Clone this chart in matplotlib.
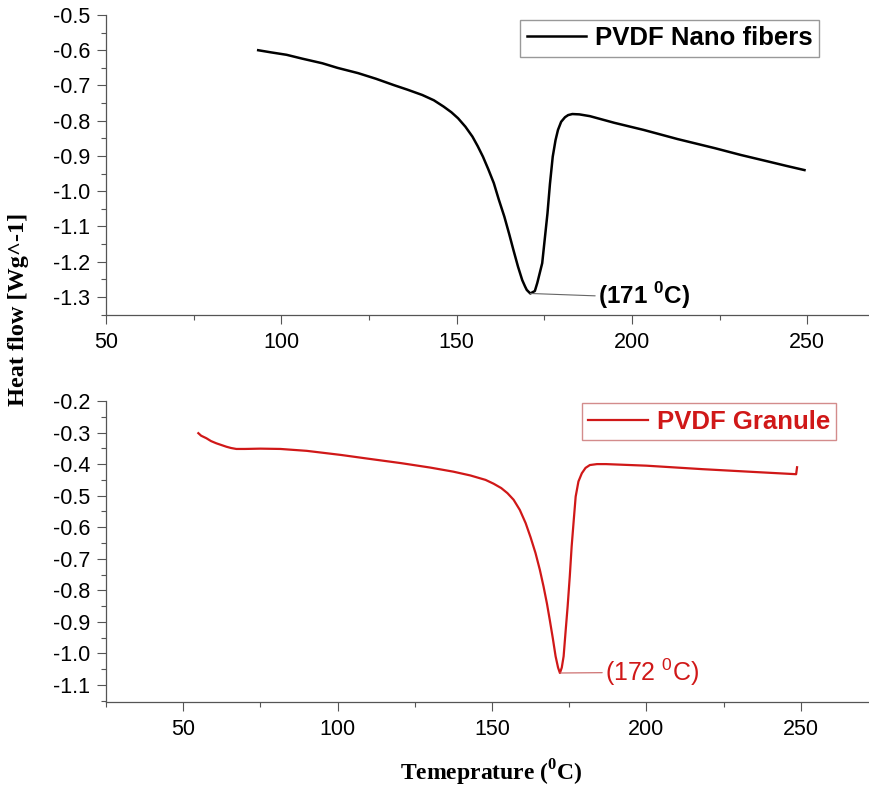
import matplotlib
matplotlib.use("Agg")
from matplotlib import pyplot as plt
from matplotlib.ticker import MultipleLocator, FormatStrFormatter

plt.rcParams['font.family'] = ['Liberation Sans', 'DejaVu Sans']
plt.rcParams['mathtext.fontset'] = 'custom'
plt.rcParams['mathtext.rm'] = 'Liberation Sans'
plt.rcParams['mathtext.bf'] = 'Liberation Sans:bold'
plt.rcParams['mathtext.sf'] = 'Liberation Serif:bold'

# DSC traces: temperature (C) vs heat flow (W/g)
temp_fiber = [93.4, 97.0, 101.5, 106.0, 111.7, 116.0, 121.9, 127.0, 132.1, 136.0,
              140.2, 143.5, 146.3, 148.5, 150.4, 152.5, 154.5, 156.0, 157.5, 159.0,
              160.6, 162.0, 163.6, 165.0, 166.2, 167.5, 168.7, 169.5, 170.0, 171.0,
              172.3, 173.0, 174.4, 175.9, 176.6, 177.4, 178.2, 178.9, 179.8, 180.9,
              181.8, 183.0, 185.0, 188.0, 195.0, 203.3, 213.0, 223.7, 231.0, 239.0,
              244.0, 249.2]
flow_fiber = [-0.600, -0.606, -0.613, -0.624, -0.637, -0.650, -0.665, -0.681, -0.699, -0.712,
              -0.727, -0.742, -0.760, -0.776, -0.793, -0.817, -0.845, -0.872, -0.902, -0.937,
              -0.977, -1.023, -1.072, -1.122, -1.167, -1.214, -1.252, -1.270, -1.280, -1.290,
              -1.283, -1.260, -1.204, -1.063, -0.980, -0.902, -0.855, -0.826, -0.803, -0.790,
              -0.784, -0.781, -0.782, -0.787, -0.806, -0.826, -0.852, -0.878, -0.897, -0.916,
              -0.928, -0.940]

temp_granule = [54.9, 55.8, 57.5, 59.0, 60.7, 62.5, 64.0, 65.5, 67.2, 70.0,
                75.0, 81.5, 90.0, 101.1, 110.0, 120.6, 130.0, 137.5, 143.0, 147.9,
                150.5, 153.0, 155.0, 157.0, 159.0, 160.9, 162.5, 164.1, 165.5, 166.7,
                167.8, 168.7, 169.7, 170.6, 171.4, 172.0, 172.6, 173.2, 173.8, 174.5,
                175.2, 175.8, 176.5, 177.1, 178.0, 179.1, 180.3, 181.7, 184.0, 186.9,
                200.0, 218.1, 235.0, 248.5, 248.8]
flow_granule = [-0.302, -0.310, -0.318, -0.327, -0.334, -0.340, -0.345, -0.349, -0.352, -0.352,
                -0.351, -0.352, -0.358, -0.371, -0.383, -0.397, -0.411, -0.424, -0.436, -0.450,
                -0.462, -0.476, -0.492, -0.513, -0.545, -0.587, -0.632, -0.682, -0.735, -0.788,
                -0.842, -0.893, -0.952, -1.009, -1.045, -1.062, -1.045, -1.009, -0.935, -0.851,
                -0.755, -0.661, -0.575, -0.503, -0.455, -0.429, -0.412, -0.403, -0.400, -0.400,
                -0.405, -0.416, -0.425, -0.432, -0.410]

peak_fiber = (171, -1.29)
peak_granule = (172, -1.062)

red = '#d01818'
axis_gray = '#555555'

fig = plt.figure(figsize=(8.69, 7.92), dpi=100)
ax1 = fig.add_axes([0.122, 0.6023, 0.878, 0.3788])
ax2 = fig.add_axes([0.122, 0.114, 0.878, 0.3797])


def style_axis(ax):
    for side in ['top', 'right']:
        ax.spines[side].set_visible(False)
    for side in ['left', 'bottom']:
        ax.spines[side].set_color(axis_gray)
        ax.spines[side].set_linewidth(0.9)
    ax.tick_params(which='both', direction='out', colors=axis_gray, labelcolor='black',
                   labelsize=15.5, width=0.8)
    ax.tick_params(which='major', length=6.5)
    ax.tick_params(which='minor', length=3.5)
    ax.tick_params(axis='y', pad=5)
    ax.tick_params(axis='x', pad=6)
    ax.xaxis.set_major_locator(MultipleLocator(50))
    ax.xaxis.set_minor_locator(MultipleLocator(25))
    ax.yaxis.set_major_locator(MultipleLocator(0.1))
    ax.yaxis.set_minor_locator(MultipleLocator(0.05))
    ax.yaxis.set_major_formatter(FormatStrFormatter('%.1f'))


# Nano fibers
ax1.plot(temp_fiber, flow_fiber, color='black', lw=1.8, label='PVDF Nano fibers')
ax1.set_xlim(50, 267.6)
ax1.set_ylim(-1.351, -0.5)
style_axis(ax1)
ax1.annotate(r'(171 $^{\mathbf{0}}$C)', xy=peak_fiber, xytext=(190.3, -1.297),
             fontsize=17.5, fontweight='bold', ha='left', va='center',
             arrowprops=dict(arrowstyle='-', color='#666666', lw=0.8,
                             shrinkA=0, shrinkB=0, relpos=(0, 0.5)))
leg1 = ax1.legend(loc='upper right', bbox_to_anchor=(0.934, 0.983), frameon=True,
                  fancybox=False, prop={'size': 18.5, 'weight': 'bold'},
                  handlelength=2.3, handletextpad=0.35, borderpad=0.25, borderaxespad=0)
leg1.get_frame().set_edgecolor('#808080')
leg1.get_frame().set_linewidth(1.0)

# Granule
ax2.plot(temp_granule, flow_granule, color=red, lw=1.6, label='PVDF Granule')
ax2.set_xlim(25, 272.1)
ax2.set_ylim(-1.153, -0.2)
style_axis(ax2)
ax2.annotate(r'(172 $^{0}$C)', xy=peak_granule, xytext=(186.6, -1.061),
             fontsize=18, color=red, ha='left', va='center',
             arrowprops=dict(arrowstyle='-', color='#c86060', lw=0.8,
                             shrinkA=0, shrinkB=0, relpos=(0, 0.5)))
leg2 = ax2.legend(loc='upper right', bbox_to_anchor=(0.957, 0.993), frameon=True,
                  fancybox=False, prop={'size': 18.5, 'weight': 'bold'},
                  handlelength=2.3, handletextpad=0.35, borderpad=0.25, borderaxespad=0,
                  labelcolor=red)
leg2.get_frame().set_edgecolor('#c87070')
leg2.get_frame().set_linewidth(1.0)

fig.text(0.021, 0.609, 'Heat flow [Wg^-1]', rotation=90, ha='center', va='center',
         fontsize=17.5, fontweight='bold', family='Liberation Serif')
fig.text(0.566, 0.024, r'Temeprature ($^{\mathsf{0}}$C)', ha='center', va='center',
         fontsize=17, fontweight='bold', family='Liberation Serif')

fig.savefig('out.png', dpi=100)
